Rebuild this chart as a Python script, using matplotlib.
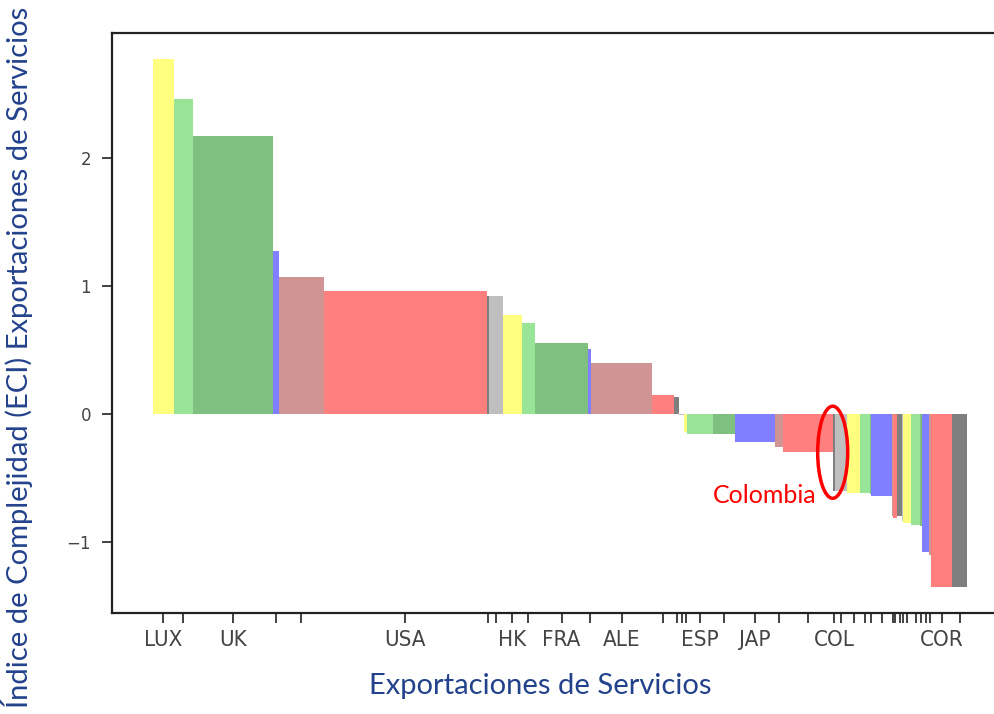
import matplotlib
matplotlib.use('Agg')
import matplotlib.pyplot as plt
from matplotlib.patches import Ellipse
import numpy as np

# un pais por barra, ordenados por ECI; el ancho es el valor exportado (relativo)
paises = ['LUX', '', 'UK', '', '', 'USA', '', '',
          'HK', '', 'FRA', '', 'ALE', '', '', '',
          '', 'ESP', '', 'JAP', '', '', 'COL', '',
          '', '', '', '', '', '', '', '',
          '', '', '', '', '', 'COR', '']
exportaciones = [21, 19, 80, 6, 45, 163, 2, 14,
                 19, 13, 53, 3, 61, 22, 5, 5,
                 3, 26, 22, 40, 8, 50, 1.5, 12.5,
                 13, 10, 1, 21, 1, 4, 5, 1,
                 8, 9, 2, 7, 2, 21, 15]
eci = [2.77, 2.46, 2.17, 1.27, 1.07, 0.96, 0.92, 0.92,
       0.77, 0.71, 0.55, 0.51, 0.40, 0.15, 0.13, -0.01,
       -0.14, -0.16, -0.16, -0.22, -0.26, -0.30, -0.60, -0.60,
       -0.62, -0.62, -0.63, -0.64, -0.80, -0.81, -0.80, -0.84,
       -0.85, -0.87, -0.88, -1.08, -1.10, -1.35, -1.35]
colores = ['yellow', 'limegreen', 'green', 'blue', 'brown', 'red', 'black', 'gray']

AZUL = '#23428c'

fig = plt.figure(figsize=(9.94, 7.14), dpi=100)
ax = fig.add_axes([112 / 994, 101 / 714, 896 / 994, 580 / 714])

anchos = np.array(exportaciones, dtype=float)
izq = np.concatenate([[0], np.cumsum(anchos)[:-1]])
cols = [colores[i % len(colores)] for i in range(len(eci))]

ax.bar(izq, eci, width=anchos, align='edge', color=cols, alpha=0.5, linewidth=0)

ax.set_xticks(izq + anchos / 2)
ax.set_xticklabels(paises, fontsize=16, fontstretch='condensed', color='#444444')
for t in ax.get_yticklabels():
    t.set_fontsize(12)
    t.set_color('#444444')
ax.tick_params(axis='both', length=7, width=1.3, color='#333333')
ax.tick_params(axis='x', pad=5)
ax.tick_params(axis='y', pad=8)
for s in ax.spines.values():
    s.set_linewidth(1.6)
    s.set_color('#222222')

# resaltar Colombia
i_col = paises.index('COL')
x_col = izq[i_col] + anchos[i_col]
y_col = eci[i_col]
ax.add_patch(Ellipse((x_col - 2, y_col / 2), 30, abs(y_col) * 1.2,
                     fill=False, edgecolor='red', linewidth=2.5, zorder=5))
ax.text(x_col - 18, y_col - 0.04, 'Colombia', color='red', fontsize=18,
        family='Lato', ha='right', va='center')

fig.text(540 / 994, 1 - 686 / 714, 'Exportaciones de Servicios', color=AZUL,
         fontsize=21, family='Lato', ha='center', va='center')
fig.text(17 / 994, 0.5, 'Índice de Complejidad (ECI) Exportaciones de Servicios',
         color=AZUL, fontsize=21, family='Lato', rotation=90, ha='center', va='center')

fig.savefig('out.png', dpi=100)
